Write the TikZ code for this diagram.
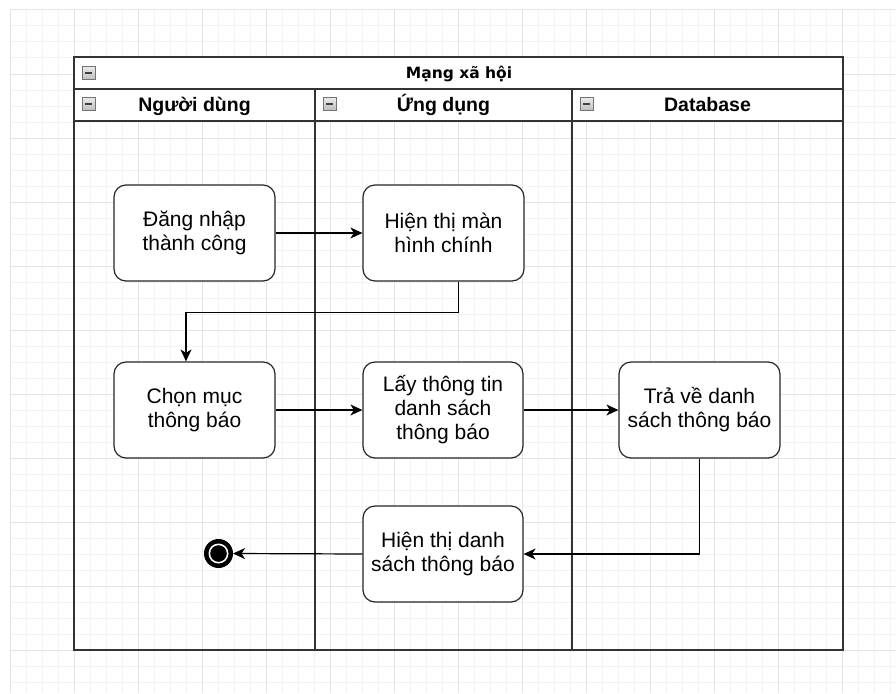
\documentclass[tikz,border=0pt]{standalone}
\usepackage{fontspec}
\setmainfont{Liberation Sans}
\newfontfamily\titlefont{DejaVu Sans}
\usetikzlibrary{arrows.meta,positioning}
\definecolor{gridminor}{HTML}{F3F3F3}
\definecolor{gridmajor}{HTML}{E4E4E4}
\definecolor{lanestroke}{HTML}{333333}
\begin{document}
\begin{tikzpicture}[x=1pt,y=-1pt,
  lane/.style={draw=lanestroke,line width=1.5pt},
  action/.style={draw=black!85,line width=1.2pt,rounded corners=12pt,fill=white,
    minimum width=161pt,minimum height=96pt,align=center,inner sep=3pt,
    font=\fontsize{21}{24}\selectfont},
  headtext/.style={font=\bfseries\fontsize{19.5}{22}\selectfont,inner sep=0pt,anchor=base},
  flow/.style={draw=black,line width=1.2pt,-{Stealth[length=12pt,width=11pt,inset=3.5pt]}},
  collapse/.pic={
    \draw[draw=black!55,line width=0.8pt,top color=gray!15,bottom color=gray!50] (-6.5,-6.5) rectangle (6.5,6.5);
    \draw[line width=2pt,color=black!75] (-3.5,0) -- (3.5,0);
  }]
% canvas and background grid
\useasboundingbox (0,0) rectangle (896,693);
\fill[white] (0,0) rectangle (896,693);
\foreach \k in {0,...,55} {
  \pgfmathsetmacro{\gx}{10+16*\k}
  \draw[gridminor,line width=1pt] (\gx,10) -- (\gx,693);
}
\foreach \k in {0,...,42} {
  \pgfmathsetmacro{\gy}{10+16*\k}
  \draw[gridminor,line width=1pt] (10,\gy) -- (896,\gy);
}
\foreach \k in {0,...,13} {
  \pgfmathsetmacro{\gx}{10+64*\k}
  \draw[gridmajor,line width=1pt] (\gx,10) -- (\gx,693);
}
\foreach \k in {0,...,10} {
  \pgfmathsetmacro{\gy}{10+64*\k}
  \draw[gridmajor,line width=1pt] (10,\gy) -- (896,\gy);
}

% swimlane pool
\fill[white] (74,57) rectangle (843,121);
\draw[lane] (74,57) rectangle (843,650);
\draw[lane] (74,89) -- (843,89);
\draw[lane] (74,121) -- (843,121);
\draw[lane] (315,89) -- (315,650);
\draw[lane] (572,89) -- (572,650);

\pic at (88.5,72.5) {collapse};
\pic at (88.5,103.5) {collapse};
\pic at (329.5,103.5) {collapse};
\pic at (586.5,103.5) {collapse};

\node[font=\titlefont\bfseries\fontsize{15.5}{18}\selectfont,inner sep=0pt,anchor=base] (pool) at (459,78.5) {Mạng xã hội};
\node[headtext] (laneU) at (194.5,111.5) {Người dùng};
\node[headtext] (laneA) at (443.5,111.5) {Ứng dụng};
\node[headtext] (laneD) at (707.5,111.5) {Database};

% activities
\node[action] (dn)  at (194.5,233) {Đăng nhập\\thành công};
\node[action] (hm)  at (443.5,233) {Hiện thị màn\\hình chính};
\node[action] (cm)  at (194.5,410) {Chọn mục\\thông báo};
\node[action,minimum width=160pt] (lt)  at (443,410) {Lấy thông tin\\danh sách\\thông báo};
\node[action] (tv)  at (699.5,410) {Trả về danh\\sách thông báo};
\node[action,minimum width=160pt] (hds) at (443,554) {Hiện thị danh\\sách thông báo};

% final state
\fill[black] (218.5,553.5) circle (14.5);
\fill[white] (218.5,553.5) circle (10);
\fill[black] (218.5,553.5) circle (8.3);
\coordinate (fin) at (233,553.5);

% transitions
\draw[flow] (dn) -- (hm);
\draw[flow] ([xshift=15pt]hm.south) -- ++(0,31) -| ([xshift=-8.5pt]cm.north);
\draw[flow] (cm) -- (lt);
\draw[flow] (lt) -- (tv);
\draw[flow] (tv.south) |- (hds.east);
\draw[flow] (hds.west) -- (fin);
\end{tikzpicture}
\end{document}
